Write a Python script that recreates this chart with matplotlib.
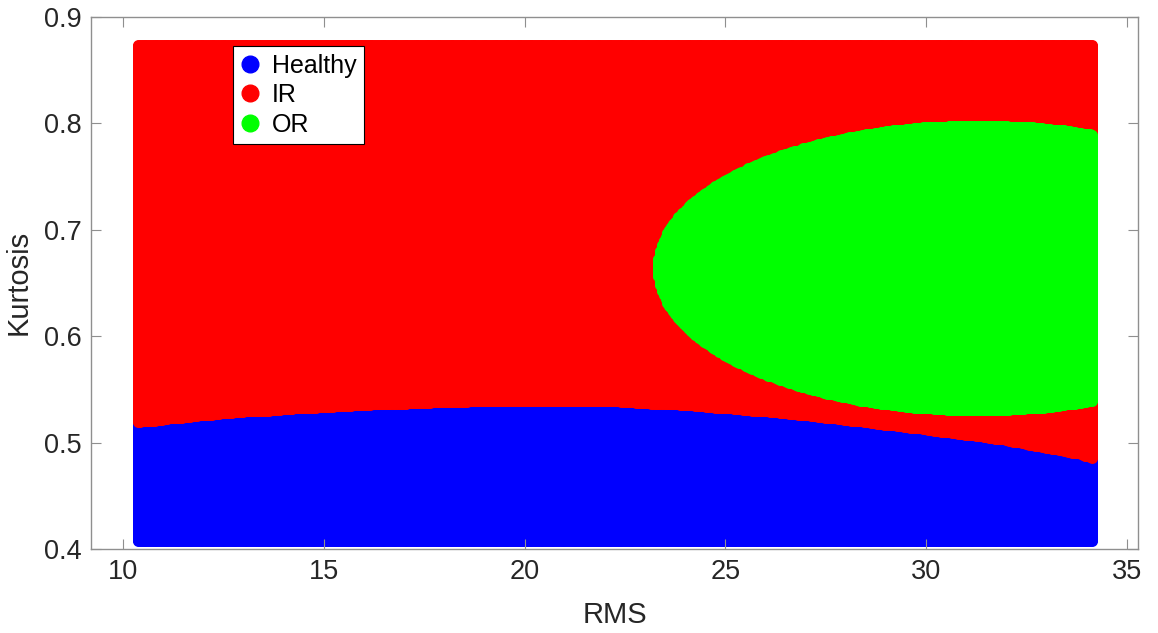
import numpy as np
import matplotlib
matplotlib.use("Agg")
import matplotlib.pyplot as plt
from matplotlib.lines import Line2D

plt.rcParams['font.family'] = ['Liberation Sans', 'DejaVu Sans']

# Feature ranges covered by the prediction grid
rms_range = [10.37, 34.13]
kurt_range = [0.4075, 0.8732]

# Healthy / IR decision boundary (kurtosis as a function of RMS)
boundary_rms = [10.42, 12.41, 14.90, 17.39, 19.88, 22.37, 24.37, 26.86, 29.35, 31.84, 33.83, 34.13]
boundary_kurt = [0.519, 0.527, 0.533, 0.537, 0.539, 0.538, 0.534, 0.526, 0.515, 0.503, 0.489, 0.485]

# OR region: elliptical decision area (centre and semi-axes)
or_center = [31.3, 0.664]
or_axes = [7.99, 0.134]

classes = ["Healthy", "IR", "OR"]
colors = ["#0000ff", "#ff0000", "#00ff00"]

xs = np.linspace(rms_range[0], rms_range[1], 520)
ys = np.linspace(kurt_range[0], kurt_range[1], 640)
gx, gy = np.meshgrid(xs, ys)
gx = gx.ravel()
gy = gy.ravel()

label = np.ones(gx.size, dtype=int)  # IR by default
label[gy < np.interp(gx, boundary_rms, boundary_kurt)] = 0
inside = ((gx - or_center[0]) / or_axes[0]) ** 2 + ((gy - or_center[1]) / or_axes[1]) ** 2 <= 1
label[inside] = 2

fig = plt.figure(figsize=(11.58, 6.33), dpi=100)
ax = fig.add_axes([0.0790, 0.1327, 0.9035, 0.8412])

for k, c in enumerate(colors):
    m = label == k
    ax.scatter(gx[m], gy[m], s=62, c=c, marker='o', linewidths=0)

ax.set_xlim(9.21, 35.27)
ax.set_ylim(0.4, 0.9)
ax.set_xticks([10, 15, 20, 25, 30, 35])
ax.set_yticks([0.4, 0.5, 0.6, 0.7, 0.8, 0.9])
ax.set_yticklabels(["0.4", "0.5", "0.6", "0.7", "0.8", "0.9"])

axis_gray = "#8f8f8f"
text_gray = "#262626"
for s in ax.spines.values():
    s.set_color(axis_gray)
    s.set_linewidth(1.0)
ax.tick_params(direction='in', length=7, width=0.8, color=axis_gray,
               labelcolor=text_gray, labelsize=19.5, top=True, right=True, pad=7)

ax.set_xlabel("RMS", fontsize=21, color=text_gray, labelpad=12)
ax.set_ylabel("Kurtosis", fontsize=21, color=text_gray, labelpad=8)

# Title sits almost entirely above the top edge of the canvas
fig.text(0.5307, 1.0, "SVM-RBF", ha='center', va='baseline',
         fontsize=21, fontweight='bold', color=text_gray)

handles = [Line2D([], [], linestyle='none', marker='o', markersize=12,
                  markerfacecolor=c, markeredgecolor=c) for c in colors]
leg = ax.legend(handles, classes, loc='upper left', bbox_to_anchor=(0.1352, 0.9446),
                borderaxespad=0, fontsize=18, frameon=True, fancybox=False,
                handlelength=0.8, handletextpad=0.45, labelspacing=0.22,
                borderpad=0.3, framealpha=1)
leg.get_frame().set_edgecolor('black')
leg.get_frame().set_linewidth(0.8)
for t in leg.get_texts():
    t.set_color('black')

fig.savefig("out.png", dpi=100)
